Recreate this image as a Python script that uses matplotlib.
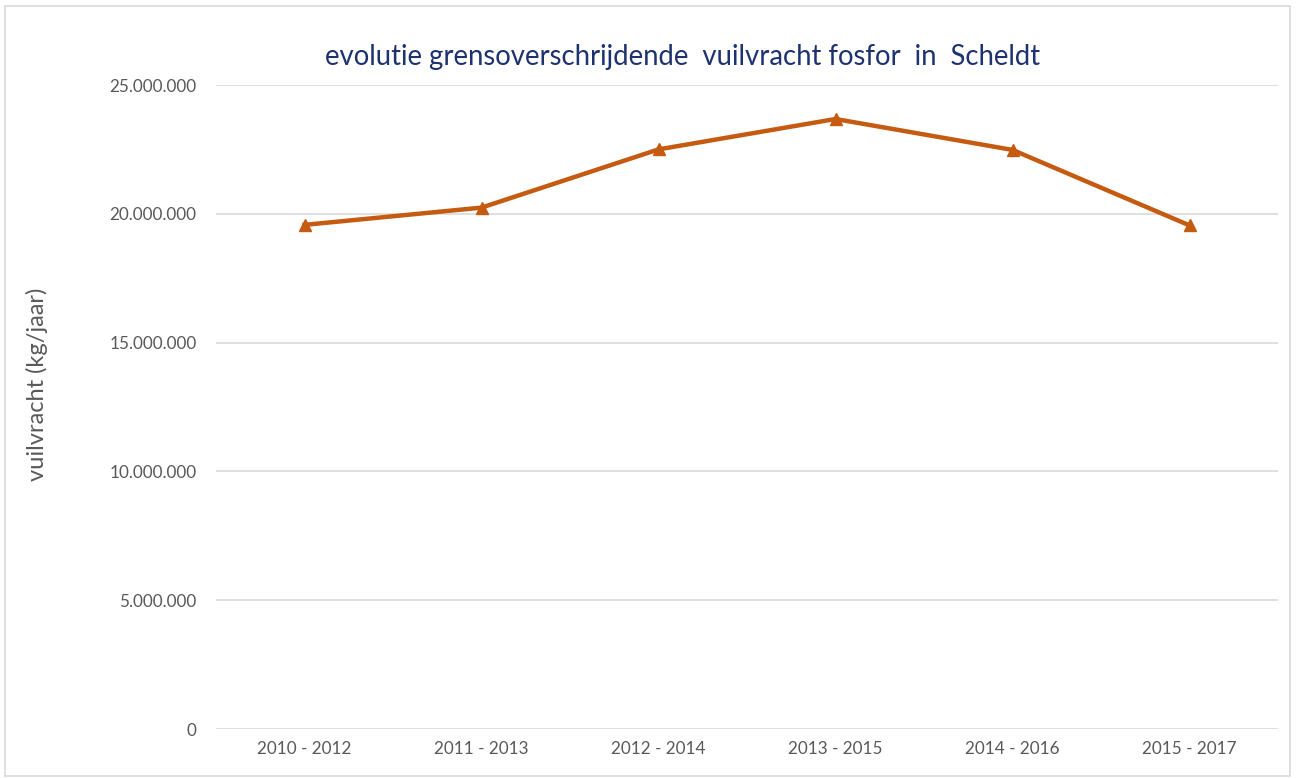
import matplotlib.pyplot as plt
from matplotlib.patches import Rectangle

plt.rcParams['font.family'] = ['Lato', 'DejaVu Sans']

periods = ["2010 - 2012", "2011 - 2013", "2012 - 2014",
           "2013 - 2015", "2014 - 2016", "2015 - 2017"]
vuilvracht = [19570000, 20240000, 22500000, 23680000, 22480000, 19550000]
y_ticks = [0, 5000000, 10000000, 15000000, 20000000, 25000000]
y_tick_labels = ["0", "5.000.000", "10.000.000", "15.000.000", "20.000.000", "25.000.000"]

fig = plt.figure(figsize=(12.96, 7.78), dpi=100)
ax = fig.add_axes([216 / 1296, 49 / 778, 1062 / 1296, 644 / 778])

x = range(len(periods))
ax.plot(x, vuilvracht, color="#C55A11", linewidth=3.2, marker="^",
        markersize=9, zorder=3)

ax.set_xlim(-0.5, len(periods) - 0.5)
ax.set_ylim(0, 25000000)
ax.set_yticks(y_ticks)
ax.set_yticklabels(y_tick_labels)
ax.set_xticks(list(x))
ax.set_xticklabels(periods)
ax.tick_params(axis="both", length=0, colors="#595959", labelsize=12.3)
ax.tick_params(axis="y", pad=14)
ax.tick_params(axis="x", pad=9)
ax.grid(axis="y", color="#D9D9D9", linewidth=1.2)
ax.set_axisbelow(True)
for s in ax.spines.values():
    s.set_visible(False)

ax.set_ylabel("vuilvracht (kg/jaar)", fontsize=17, color="#595959")
ax.yaxis.set_label_coords(-0.158, 0.535)
fig.text(0.527, 0.927, "evolutie grensoverschrijdende  vuilvracht fosfor  in  Scheldt",
         ha="center", va="center", fontsize=19.8, color="#1F3270")

fig.patches.append(Rectangle((5 / 1296, 2 / 778), 1285 / 1296, 770 / 778,
                             transform=fig.transFigure, fill=False,
                             edgecolor="#D9D9D9", linewidth=1.2))

fig.savefig("out.png", dpi=100)
